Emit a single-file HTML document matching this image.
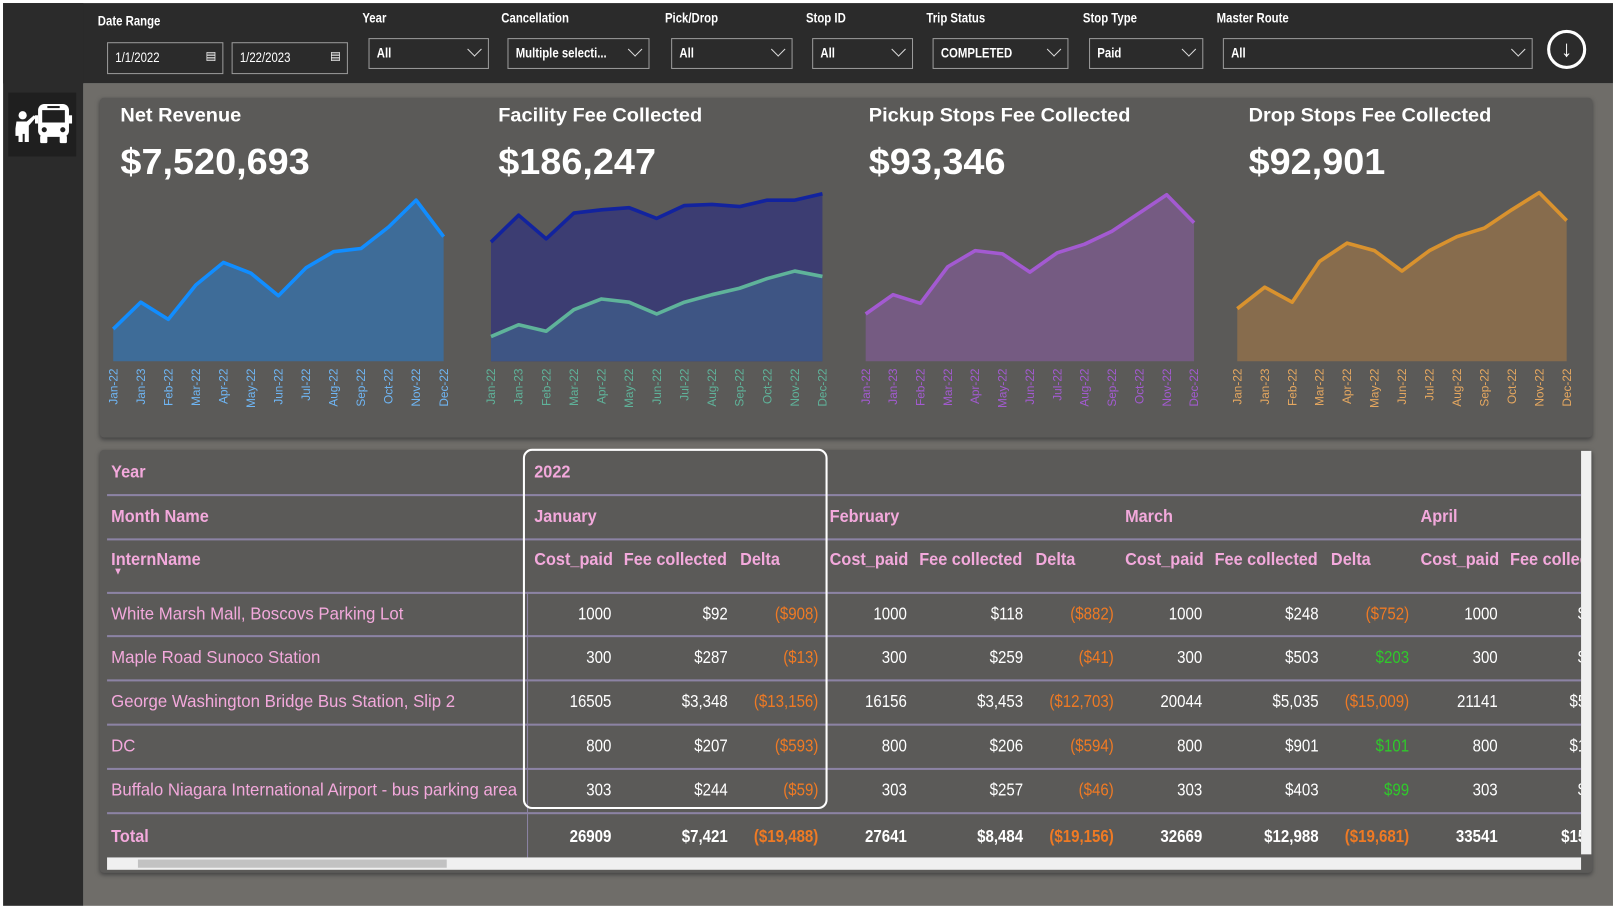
<!DOCTYPE html>
<html><head><meta charset="utf-8">
<style>
*{box-sizing:border-box;margin:0;padding:0}
body{width:1614px;height:907px;background:#fff;position:relative;overflow:hidden;font-family:"Liberation Sans",sans-serif}
#root{position:absolute;left:0;top:0;width:1568px;height:882px;transform:scale(1.02934);transform-origin:0 0}
.abs{position:absolute}
.lbl{position:absolute;color:#fff;font-size:13px;font-weight:bold;transform:scaleX(0.85);transform-origin:left}
.sel{position:absolute;border:1.5px solid #9a9a9a;color:#fff;font-size:13px;font-weight:bold;padding:6px 7px;background:#2b2b2b}
.sel .t{display:inline-block;transform:scaleX(0.85);transform-origin:left;white-space:nowrap}
.sel .chev{position:absolute;right:8px;top:5px;width:10px;height:10px;border-right:1.5px solid #ddd;border-bottom:1.5px solid #ddd;transform:rotate(45deg)}
.kt{position:absolute;color:#fff;font-weight:bold;transform:scaleX(1.02);transform-origin:left;white-space:nowrap}
.kv{transform:scaleX(1.05)}
.cell{position:absolute;font-size:17px;color:#fff;text-align:right;white-space:nowrap;transform:scaleX(0.86);transform-origin:right}
.hd{position:absolute;font-size:17px;color:#f3a9dc;font-weight:bold;white-space:nowrap;transform:scaleX(0.93);transform-origin:left}
.hl{position:absolute;left:104px;width:1432px;height:2px;background:#8c83a4}
.nm{position:absolute;left:108px;font-size:17px;color:#f3a9dc;white-space:nowrap;transform:scaleX(0.96);transform-origin:left}
.neg{color:#ef7a24}.pos{color:#2fc92b}
</style></head><body>
<div id="root">
<div class="abs" style="left:3px;top:3px;width:1564px;height:78px;background:#2b2b2b"></div>
<div class="abs" style="left:3px;top:3px;width:78px;height:877px;background:#2b2b2b"></div>
<div class="abs" style="left:81px;top:81px;width:1486px;height:799px;background:#6f6d69"></div>
<div class="abs" style="left:8px;top:90px;width:66px;height:62px;background:#1f1f1f">
<svg width="66" height="62" viewBox="0 0 66 62"><g fill="#fff"><circle cx="14" cy="22" r="4"/><path d="M8 28h10l7-6 2 2-7 8v16h-4v-8h-2v8h-4v-6h-3v-7z"/><rect x="29" y="11" width="30" height="32" rx="6"/><rect x="31" y="42" width="7" height="7" rx="1"/><rect x="50" y="42" width="7" height="7" rx="1"/><rect x="26" y="22" width="3" height="8"/><rect x="59" y="22" width="3" height="8"/></g><rect x="33" y="17" width="22" height="12" fill="#1f1f1f"/><circle cx="35" cy="36" r="2.5" fill="#1f1f1f"/><circle cx="53" cy="36" r="2.5" fill="#1f1f1f"/><rect x="38" y="13" width="12" height="2" fill="#1f1f1f"/></svg></div>

<div class="lbl" style="left:95px;top:13px">Date Range</div>
<div class="sel" style="left:104px;top:41px;width:113px;height:31px;font-weight:normal"><span class="t">1/1/2022</span><span style="position:absolute;right:6px;top:6px;font-size:11px">▤</span></div>
<div class="sel" style="left:225px;top:41px;width:113px;height:31px;font-weight:normal"><span class="t">1/22/2023</span><span style="position:absolute;right:6px;top:6px;font-size:11px">▤</span></div>
<div class="lbl" style="left:352px;top:10px">Year</div>
<div class="sel" style="left:358px;top:37px;width:117px;height:30px"><span class="t">All</span><span class="chev"></span></div>
<div class="lbl" style="left:487px;top:10px">Cancellation</div>
<div class="sel" style="left:493px;top:37px;width:138px;height:30px"><span class="t">Multiple selecti...</span><span class="chev"></span></div>
<div class="lbl" style="left:646px;top:10px">Pick/Drop</div>
<div class="sel" style="left:652px;top:37px;width:118px;height:30px"><span class="t">All</span><span class="chev"></span></div>
<div class="lbl" style="left:783px;top:10px">Stop ID</div>
<div class="sel" style="left:789px;top:37px;width:98px;height:30px"><span class="t">All</span><span class="chev"></span></div>
<div class="lbl" style="left:900px;top:10px">Trip Status</div>
<div class="sel" style="left:906px;top:37px;width:132px;height:30px"><span class="t">COMPLETED</span><span class="chev"></span></div>
<div class="lbl" style="left:1052px;top:10px">Stop Type</div>
<div class="sel" style="left:1058px;top:37px;width:111px;height:30px"><span class="t">Paid</span><span class="chev"></span></div>
<div class="lbl" style="left:1182px;top:10px">Master Route</div>
<div class="sel" style="left:1188px;top:37px;width:301px;height:30px"><span class="t">All</span><span class="chev"></span></div>
<div class="abs" style="left:1503px;top:29px;width:38px;height:38px;border:3px solid #fff;border-radius:50%;color:#fff;font-size:22px;font-weight:bold;text-align:center;line-height:31px">↓</div>

<div class="abs" style="left:97px;top:95px;width:1450px;height:330px;background:#5b5a58;border-radius:4px;box-shadow:0 2px 4px #444"></div>
<div class="kt" style="left:117px;top:102px;font-size:19px">Net Revenue</div>
<div class="kt kv" style="left:117px;top:138px;font-size:35px">$7,520,693</div>
<div class="kt" style="left:484px;top:102px;font-size:19px">Facility Fee Collected</div>
<div class="kt kv" style="left:484px;top:138px;font-size:35px">$186,247</div>
<div class="kt" style="left:844px;top:102px;font-size:19px">Pickup Stops Fee Collected</div>
<div class="kt kv" style="left:844px;top:138px;font-size:35px">$93,346</div>
<div class="kt" style="left:1213px;top:102px;font-size:19px">Drop Stops Fee Collected</div>
<div class="kt kv" style="left:1213px;top:138px;font-size:35px">$92,901</div>

<svg id="charts" class="abs" style="left:0;top:0" width="1568" height="430"></svg>

<div class="abs" style="left:97px;top:437px;width:1450px;height:411px;background:#5b5a58;border-radius:4px;box-shadow:0 2px 4px #444"></div>
<div id="tbl" class="abs" style="left:0;top:0;width:1536px;height:860px;overflow:hidden"></div>
<div class="abs" style="left:1536px;top:438px;width:10px;height:392px;background:#f0f0f0"></div>
<div class="abs" style="left:104px;top:833px;width:1432px;height:12px;background:#f0f0f0"><div style="position:absolute;left:30px;top:2px;width:300px;height:8px;background:#c2c2c2"></div></div>
<div class="abs" style="left:508px;top:436px;width:296px;height:350px;border:2.5px solid #fff;border-radius:9px"></div>
</div>
<script>
const months=["Jan-22","Jan-23","Feb-22","Mar-22","Apr-22","May-22","Jun-22","Jul-22","Aug-22","Sep-22","Oct-22","Nov-22","Dec-22"];
const netRevenue=[150,275,195,355,460,410,305,435,510,525,625,750,580];
const facilityTotal=[11100,13600,11400,13800,14100,14300,13300,14500,14600,14400,15000,15000,15600];
const facilityPaid=[2300,3400,2800,4800,5800,5500,4400,5500,6200,6800,7700,8400,7900];
const pickupFee=[2200,3100,2700,4400,5150,5000,4150,5050,5450,6050,6900,7750,6450];
const dropFee=[2450,3450,2750,4650,5500,5150,4200,5150,5800,6200,7050,7850,6550];
const NS="http://www.w3.org/2000/svg";
const svg=document.getElementById('charts');
function mk(t,a){const e=document.createElementNS(NS,t);for(const k in a)e.setAttribute(k,a[k]);svg.appendChild(e);return e;}
function area(x0,x1,maxV,vals,fill,stroke,name){
  const xs=i=>x0+i*(x1-x0)/(vals.length-1);
  const ys=v=>351-v/maxV*167;
  let d='M'+xs(0)+',351';vals.forEach((v,i)=>d+=' L'+xs(i)+','+ys(v));d+=' L'+xs(vals.length-1)+',351Z';
  const a=mk('path',{d:d,fill:fill});
  
  
  const l=mk('polyline',{points:vals.map((v,i)=>xs(i)+','+ys(v)).join(' '),fill:'none',stroke:stroke,'stroke-width':3.5,'stroke-linejoin':'round'});
  
  
}
function labels(x0,x1,color,name){
  months.forEach((m,i)=>{const x=x0+i*(x1-x0)/(months.length-1)+4;
    const t=mk('text',{x:x,y:358,transform:'rotate(-90 '+x+' 358)','text-anchor':'end','font-size':11.5,fill:color,'font-family':'Liberation Sans, sans-serif'});
    t.textContent=m;
    
    });
}
area(110,431,800,netRevenue,'#3e6c98','#118dff','net-revenue');labels(110,431,'#6fb6f5','net-revenue');
area(477,799,16000,facilityTotal,'#3c3d72','#12239e','facility-total');
area(477,799,16000,facilityPaid,'#3e5584','#5fb39a','facility-paid');labels(477,799,'#5fb39a','facility');
area(841,1160,8000,pickupFee,'#755b82','#a35ad1','pickup-fee');labels(841,1160,'#a35ad1','pickup');
area(1202,1522,8000,dropFee,'#876c4d','#d9922e','drop-fee');labels(1202,1522,'#e6a860','drop');

const stops=["White Marsh Mall, Boscovs Parking Lot","Maple Road Sunoco Station","George Washington Bridge Bus Station, Slip 2","DC","Buffalo Niagara International Airport - bus parking area"];
const monthNames=["January","February","March","April"];
const costPaid=[[1000,1000,1000,1000],[300,300,300,300],[16505,16156,20044,21141],[800,800,800,800],[303,303,303,303]];
const feeCollected=[["$92","$118","$248","$"],["$287","$259","$503","$"],["$3,348","$3,453","$5,035","$5"],["$207","$206","$901","$1"],["$244","$257","$403","$"]];
const deltas=[["($908)","($882)","($752)",""],["($13)","($41)","$203",""],["($13,156)","($12,703)","($15,009)",""],["($593)","($594)","$101",""],["($59)","($46)","$99",""]];
const totalCost=[26909,27641,32669,33541];
const totalFee=["$7,421","$8,484","$12,988","$15"];
const totalDelta=["($19,488)","($19,156)","($19,681)",""];
const T=document.getElementById('tbl');
function div(cls,name,style,txt,inter){const e=document.createElement('div');e.className=cls;e.setAttribute('style',style);if(txt!==undefined)e.textContent=txt;
  
  T.appendChild(e);return e;}
[480,523,575,617,660,703,746,789].forEach(y=>div('hl','row-divider','top:'+y+'px'));
div('abs','column-divider','left:512px;top:575px;width:1px;height:258px;background:#8c83a4');
div('hd','year-header','left:108px;top:449px','Year');
div('hd','year-2022','left:519px;top:449px','2022');
div('hd','month-name-header','left:108px;top:492px','Month Name');
div('hd','intern-name-header','left:108px;top:534px','InternName',true);
div('hd','sort-arrow','left:110px;top:550px;font-size:10px','▼',true);
const colX=[512,799,1086,1373];
monthNames.forEach((m,i)=>{const x=colX[i];
  div('hd','month-header','left:'+(x+7)+'px;top:492px',m);
  div('hd','cost-paid-header','left:'+(x+7)+'px;top:534px','Cost_paid');
  div('hd','fee-collected-header','left:'+(x+94)+'px;top:534px','Fee collected');
  div('hd','delta-header','left:'+(x+207)+'px;top:534px','Delta');
});
function cell(cls,name,rightX,y,txt,extra){div('cell'+cls,name,'left:'+(rightX-150)+'px;width:150px;top:'+y+'px;'+(extra||''),txt);}
const rowY=[587,629,672,715,758];
const feeOff=[195,195,195,168];
stops.forEach((s,r)=>{
  div('nm','stop-name','top:'+rowY[r]+'px',s,true);
  monthNames.forEach((m,i)=>{const x=colX[i];
    cell('','cost-paid-cell',x+82,rowY[r],costPaid[r][i]);
    cell('','fee-collected-cell',x+feeOff[i],rowY[r],feeCollected[r][i]);
    const d=deltas[r][i];
    cell(d.startsWith('(')?' neg':' pos','delta-cell',x+283,rowY[r],d);
  });
});
div('hd','total-label','left:108px;top:803px','Total');
monthNames.forEach((m,i)=>{const x=colX[i];
  cell('','total-cost-paid',x+82,803,totalCost[i],'font-weight:bold');
  cell('','total-fee-collected',x+feeOff[i],803,totalFee[i],'font-weight:bold');
  cell(' neg','total-delta',x+283,803,totalDelta[i],'font-weight:bold');
});
</script>
</body></html>
